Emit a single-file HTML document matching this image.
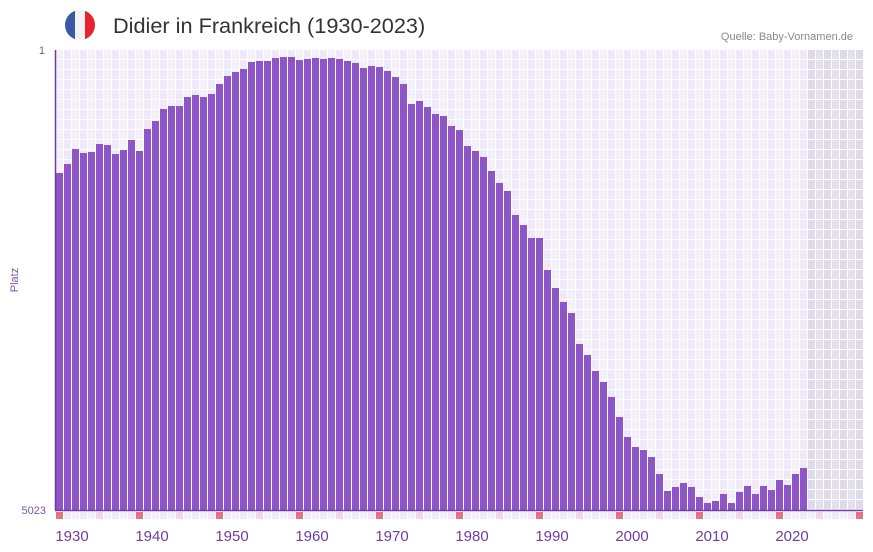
<!DOCTYPE html>
<html><head><meta charset="utf-8">
<style>
html,body{margin:0;padding:0;background:#fff;}
svg{display:block;font-family:"Liberation Sans","DejaVu Sans",sans-serif;}
</style></head>
<body>
<svg id="c" width="873" height="552" viewBox="0 0 873 552" xmlns="http://www.w3.org/2000/svg">
<defs><clipPath id="fc"><circle cx="80" cy="25" r="15"/></clipPath></defs>
<g clip-path="url(#fc)">
<rect x="65" y="10" width="10" height="30" fill="#3a58a8"/>
<rect x="75" y="10" width="10" height="30" fill="#f2f2f4"/>
<rect x="85" y="10" width="10" height="30" fill="#e8232b"/>
</g>
<text x="113" y="33" font-size="21.7" fill="#333">Didier in Frankreich (1930-2023)</text>
<text x="853" y="40" font-size="11" fill="#888" text-anchor="end">Quelle: Baby-Vornamen.de</text>
<g id="grid"></g>
<g id="bars"></g>
<line x1="55.5" y1="50" x2="55.5" y2="510" stroke="#6a3fa0" stroke-width="1.5"/>
<line x1="55" y1="510.5" x2="863" y2="510.5" stroke="#6a3fa0" stroke-width="1.5"/>
<text x="45" y="54" font-size="11" fill="#7a55b0" text-anchor="end">1</text>
<text x="46" y="514" font-size="11" fill="#7a55b0" text-anchor="end">5023</text>
<text x="18" y="280" font-size="11" fill="#7a55b0" text-anchor="middle" transform="rotate(-90 18 280)">Platz</text>
<g font-size="15" fill="#6a3fa0" text-anchor="middle">
<text x="72" y="541">1930</text><text x="152" y="541">1940</text><text x="232" y="541">1950</text>
<text x="312" y="541">1960</text><text x="392" y="541">1970</text><text x="472" y="541">1980</text>
<text x="552" y="541">1990</text><text x="632" y="541">2000</text><text x="712" y="541">2010</text>
<text x="792" y="541">2020</text>
</g>
</svg>
<script>
var ns="http://www.w3.org/2000/svg";
function r(g,x,y,w,h,f){var e=document.createElementNS(ns,"rect");e.setAttribute("x",x);e.setAttribute("y",y);e.setAttribute("width",w);e.setAttribute("height",h);e.setAttribute("fill",f);g.appendChild(e);}
var grid=document.getElementById("grid"),bars=document.getElementById("bars");
r(grid,55,50,808,460,"#ffffff");
for(var i=0;i<101;i++){
  var x=56+i*8, grey=i>=94;
  var f=grey?(i%2?"#e3dfec":"#dedaea"):(i%2?"#eee8f8":"#f3f0fb");
  for(var j=0;j<46;j++){r(grid,x,50+j*10,7,9,f);}
  var m=i%10==0?"#e5737f":(i%5==0?"#f5d6e0":(i%2?"#eee8f8":"#f3f0fb"));
  r(grid,x,512,7,7,m);
}
var tops=[173,164,149,153,152,144,145,154,150,140,151,129,121,109,106,106,97,95,97,94,84,76,72,69,62,61,61,58,57,57,60,59,58,59,58,59,61,63,68,66,67,71,77,84,104,101,107,114,116,126,130,146,151,157,171,183,191,215,225,238,238,270,288,302,313,344,355,371,382,397,417,437,447,450,457,474,491,487,483,487,497,503,501,494,503,492,486,494,486,490,480,485,474,468];
for(var k=0;k<tops.length;k++){r(bars,56+k*8,tops[k],7,510-tops[k],"#8e55c8");}
</script>
</body></html>
